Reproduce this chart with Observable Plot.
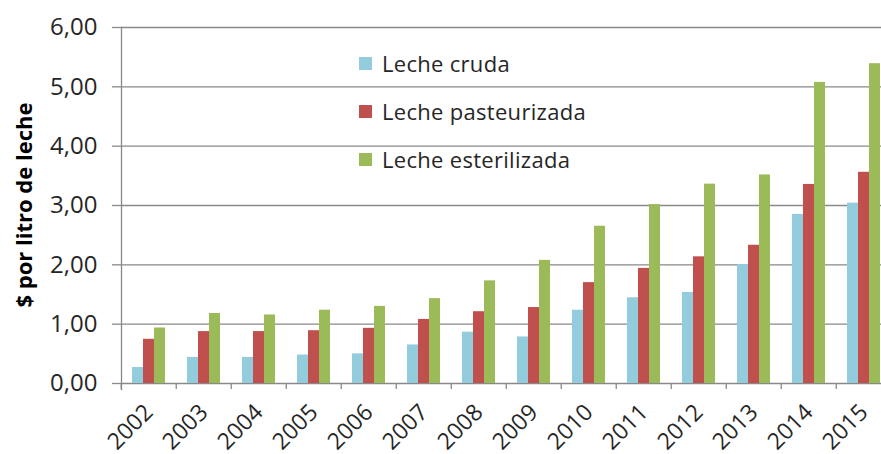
<!DOCTYPE html>
<html><head><meta charset="utf-8">
<script src="https://cdn.jsdelivr.net/npm/d3@7"></script>
<script src="https://cdn.jsdelivr.net/npm/@observablehq/plot@0.6"></script>
<style>
html,body{margin:0;padding:0;overflow:hidden;background:#fff;}
#wrap{position:relative;width:881px;height:454px;overflow:hidden;}
#chart svg{max-width:none !important;display:block;}
#legend{position:absolute;left:359px;top:39px;font-family:"Open Sans",sans-serif;font-size:22px;letter-spacing:0.3px;color:#262626;}
.item{display:flex;align-items:center;height:48px;}
.sw{width:13px;height:13px;margin-right:10px;flex:none;}
#ylabel{position:absolute;left:23px;top:205px;transform:translate(-50%,-50%) rotate(-90deg);white-space:nowrap;font-family:"Open Sans",sans-serif;font-weight:bold;font-size:22px;color:#000;}
</style></head><body><div id="wrap"><div id="chart"></div><div id="legend"></div><div id="ylabel"></div></div>
<script>
const years = [2002,2003,2004,2005,2006,2007,2008,2009,2010,2011,2012,2013,2014,2015];
const series = ["Leche cruda","Leche pasteurizada","Leche esterilizada"];
const colors = ["#93CDDD","#C0504D","#9BBB59"];
const cruda = [0.27,0.44,0.44,0.48,0.50,0.65,0.865,0.785,1.235,1.445,1.535,2.005,2.85,3.04];
const pasteurizada = [0.745,0.875,0.875,0.89,0.93,1.08,1.21,1.28,1.70,1.94,2.135,2.33,3.355,3.56];
const esterilizada = [0.935,1.18,1.155,1.235,1.30,1.43,1.73,2.075,2.65,3.015,3.36,3.515,5.075,5.39];
const yTicks = [0,1,2,3,4,5,6];
const yLabel = "$ por litro de leche";

const valuesBySeries = [cruda, pasteurizada, esterilizada];
const data = [];
years.forEach((yr, i) => series.forEach((s, j) => data.push({year: yr, series: s, value: valuesBySeries[j][i]})));

const width = 894, marginLeft = 117, marginRight = 0;
const step = (width - marginLeft - marginRight) / years.length;
const grey = "#898989";
const fmt = d => d.toFixed(2).replace(".", ",");

const chart = Plot.plot({
  width, height: 454,
  marginLeft, marginRight, marginTop: 27, marginBottom: 71,
  style: {fontFamily: "'Open Sans', sans-serif", fontSize: "22px", color: "#262626", background: "white"},
  fx: {domain: years, padding: 0, label: null},
  x: {domain: series, paddingInner: 0, paddingOuter: 0.81, axis: null},
  y: {domain: [0, 6], label: null},
  color: {domain: series, range: colors},
  marks: [
    Plot.gridY(yTicks, {stroke: grey, strokeOpacity: 1, strokeWidth: 1.3}),
    Plot.frame({anchor: "left", facetAnchor: "left", stroke: grey, strokeWidth: 1.3, insetBottom: -6}),
    Plot.barY(data, {fx: "year", x: "series", y: "value", fill: "series"}),
    Plot.axisY(yTicks, {tickSize: 9, tickPadding: 15, tickFormat: fmt, stroke: grey, strokeWidth: 1.3, fill: "#262626", label: null, fontSize: 24}),
    Plot.axisFx({anchor: "bottom", tickSize: 6, tickFormat: () => "", stroke: grey, strokeWidth: 1.3, dx: -step / 2, label: null}),
    Plot.axisFx({anchor: "bottom", tickSize: 0, tickPadding: 25, tickRotate: -45, tickFormat: d => String(d), fontSize: 23, fill: "#262626", label: null})
  ]
});
document.getElementById("chart").appendChild(chart);

document.getElementById("ylabel").textContent = yLabel;
const legend = document.getElementById("legend");
series.forEach((s, j) => {
  const it = document.createElement("div"); it.className = "item";
  const sw = document.createElement("div"); sw.className = "sw"; sw.style.background = colors[j];
  const tx = document.createElement("span"); tx.textContent = s;
  it.appendChild(sw); it.appendChild(tx); legend.appendChild(it);
});
</script></body></html>
